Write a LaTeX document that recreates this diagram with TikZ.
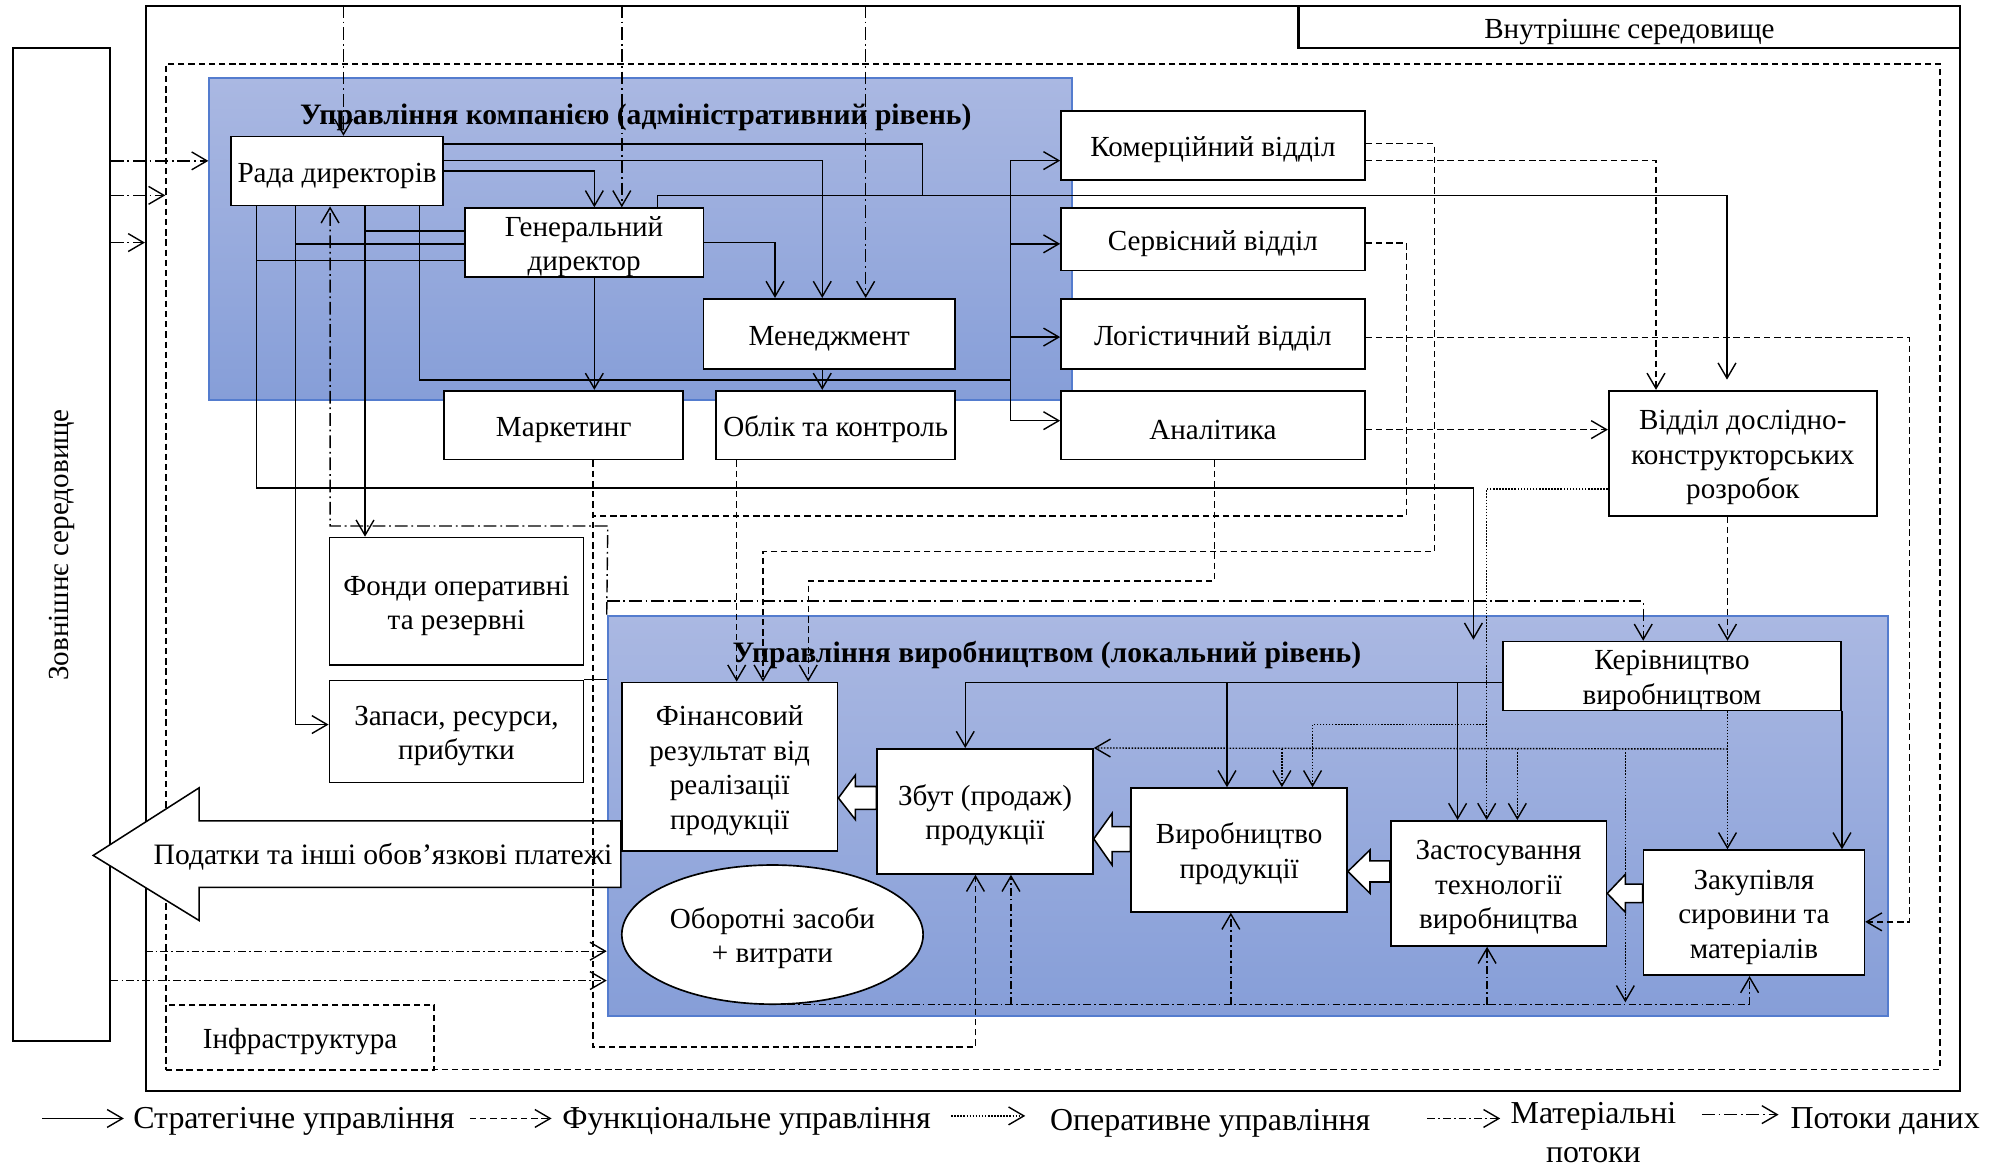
\documentclass[tikz,border=0pt]{standalone}
\usepackage{fontspec}
\setmainfont{Liberation Serif}
\usetikzlibrary{arrows.meta,shapes.geometric,calc}
\pgfdeclarelayer{back}
\pgfdeclarelayer{mid}
\pgfsetlayers{back,mid,main}
\definecolor{pTop}{RGB}{170,184,226}
\definecolor{pBot}{RGB}{134,158,216}
\definecolor{pBorder}{RGB}{84,124,206}
\newcommand\dfont{\fontsize{11.4}{13.5}\selectfont}
\newcommand\lfont{\fontsize{12.5}{15}\selectfont}
\newcommand\tstrut{\rule{0pt}{11pt}}
\newcommand\myblk[8]{\draw[blk] (#2.east |- 0,#3) -- (#8,#6) -- (#8,#4) -- (#1.west |- 0,#4) -- (#1.west |- 0,#5) -- (#8,#5) -- (#8,#7) -- cycle;}
\tikzset{
 ln/.style={line width=0.55pt},
 arw/.style={-{Straight Barb[length=6pt,width=7pt]}},
 strat/.style={ln},
 func/.style={ln,dash pattern=on 2.5pt off 1.5pt},
 oper/.style={ln,dash pattern=on 0.6pt off 0.6pt},
 mat/.style={ln,dash pattern=on 3pt off 1.2pt on 0.7pt off 1.2pt},
 dat/.style={ln,dash pattern=on 5pt off 1.5pt on 0.7pt off 1.5pt},
 bx/.style={draw, fill=white, line width=0.65pt, inner xsep=1pt, inner ysep=0pt, align=center, font=\dfont},
 sz/.style 2 args={minimum width=#1*0.5pt, minimum height=#2*0.5pt},
 panel/.style={draw=pBorder, line width=0.8pt, top color=pTop, bottom color=pBot, inner sep=0pt},
 blk/.style={draw, fill=white, line width=0.6pt, line join=miter},
}
\begin{document}
\begin{tikzpicture}[x=0.5pt,y=-0.5pt]
\useasboundingbox (0,0) rectangle (1568,913);
% ---------- nodes ----------
\node[bx, sz={166}{54}] (rada) at (264,134) {\tstrut Рада директорів};
\node[bx, sz={187}{54}] (gen) at (457.5,190) {\tstrut Генеральний\\директор};
\node[bx, sz={197}{55}] (men) at (649.5,261.5) {\tstrut Менеджмент};
\node[bx, sz={187}{54}] (mark) at (441.5,333) {\tstrut Маркетинг};
\node[bx, sz={187}{54}] (obl) at (654.5,333) {\tstrut Облік та контроль};
\node[bx, sz={238}{54}] (kom) at (950,114) {\tstrut Комерційний відділ};
\node[bx, sz={238}{49}] (serv) at (950,187.5) {\tstrut Сервісний відділ};
\node[bx, sz={238}{55}] (log) at (950,261.5) {\tstrut Логістичний відділ};
\node[bx, sz={238}{54}] (anal) at (950,333) {\tstrut Аналітика};
\node[bx, sz={210}{98}] (dkr) at (1365,355) {\tstrut Відділ дослідно-\\конструкторських\\розробок};
\node[bx, sz={199}{100}] (fond) at (357.5,471) {\tstrut Фонди оперативні\\та резервні};
\node[bx, sz={199}{80}] (zap) at (357.5,573) {\tstrut Запаси, ресурси,\\прибутки};
\node[bx, sz={265}{54}] (ker) at (1309.5,529.5) {\tstrut Керівництво\\виробництвом};
\node[bx, sz={169}{132}] (fin) at (571.5,600.5) {\tstrut Фінансовий\\результат від\\реалізації\\продукції};
\node[bx, sz={169}{98}] (zbut) at (771.5,635.5) {\tstrut Збут (продаж)\\продукції};
\node[bx, sz={169}{97}] (vyr) at (970.5,665.7) {\tstrut Виробництво\\продукції};
\node[bx, sz={169}{98}] (zast) at (1173.7,691.9) {\tstrut Застосування\\технології\\виробництва};
\node[bx, sz={173}{98}] (zak) at (1373.7,714.8) {\tstrut Закупівля\\сировини та\\матеріалів};
\node[bx, ellipse, sz={236}{109}] (ell) at (605,732) {\tstrut Оборотні засоби\\+ витрати};
% ---------- background ----------
\begin{pgfonlayer}{back}
\node[draw, line width=0.8pt, sz={1421.1}{849.8}, inner sep=0pt] (inner) at (824.85,429.6) {};
\node[draw, line width=0.8pt, fill=white, sz={518.4}{33.2}, inner sep=0pt, font=\dfont] (intlab) at (1276.2,21.3) {\tstrut Внутрішнє середовище};
\node[draw, line width=0.8pt, sz={75.6}{777.8}, inner sep=0pt] (ext) at (48.2,426.8) {};
\node[rotate=90, font=\dfont] (extlab) at (ext.center) {Зовнішнє середовище};
\node[draw, func, sz={1389.5}{787.5}, inner sep=0pt] (dashrect) at (824.75,443.75) {};
\node[draw, func, sz={210}{51}, inner sep=0pt, font=\dfont] (infra) at (235,812.5) {\tstrut Інфраструктура};
\node[panel, sz={675.8}{252.5}] (toppanel) at (501.9,187.05) {};
\node[panel, sz={1002.5}{313.3}] (botpanel) at (977.25,638.85) {};
\node[font=\fontsize{11.6}{13.5}\selectfont\bfseries] (toptitle) at (498,92) {Управління компанією (адміністративний рівень)};
\node[font=\fontsize{11.6}{13.5}\selectfont\bfseries] (bottitle) at (820,513) {Управління виробництвом (локальний рівень)};
\draw[blk] (73,670) -- (156,617) -- (156,643) -- (fin.west |- 0,643) -- (fin.west |- 0,695) -- (156,695) -- (156,721) -- cycle;
\node[font=\fontsize{11.6}{13.5}\selectfont] (tax) at (300,671) {Податки та інші обов’язкові платежі};
\end{pgfonlayer}
% ---------- connectors ----------
\begin{pgfonlayer}{mid}
% strategic
\draw[strat,arw,shorten >=4pt] (rada.east |- 0,112.8) -| (722.7,153) -- (1352.6,153) -- (dkr.north -| 1352.6,0);
\draw[strat] (gen.north -| 515,0) -- (515,153) -- (722.7,153);
\draw[strat,arw] (rada.east |- 0,125.8) -| (men.north -| 644,0);
\draw[strat,arw] (rada.east) -| (gen.north -| 465.5,0);
\draw[strat,arw] (gen.east) -| (men.north -| 607,0);
\draw[strat,arw] (gen.south -| 465.5,0) -- (mark.north -| 465.5,0);
\draw[strat,arw] (men.south -| 644,0) -- (obl.north -| 644,0);
\coordinate (busT) at (791.4,125.8);
\coordinate (busB) at (791.4,329.5);
\draw[strat] (rada.south -| 328.7,0) |- (791.4,297.6);
\draw[strat] (busT) -- (busB);
\draw[strat,arw] (busT) -- (kom.west |- busT);
\draw[strat,arw] (791.4,191) -- (serv.west |- 0,191);
\draw[strat,arw] (791.4,264) -- (log.west |- 0,264);
\draw[strat,arw] (busB) -- (anal.west |- busB);
\coordinate (prodin) at (1154,501);
\draw[strat,arw] (rada.south -| 201,0) |- (1154,382.3) -- (prodin);
\draw[strat,arw] (rada.south -| 231.3,0) |- (zap.west |- 0,567.5);
\draw[strat,arw] (rada.south -| 285.9,0) -- (fond.north -| 285.9,0);
\draw[strat] (gen.west |- 0,181) -- (285.9,181);
\draw[strat] (gen.west |- 0,191.2) -- (231.3,191.2);
\draw[strat] (gen.west |- 0,203.9) -- (201,203.9);
\draw[strat] (zap.north east) -- (botpanel.west |- zap.north east);
\draw[strat] (ker.west |- 0,534.4) -- (756,534.4);
\draw[strat,arw] (756,534.4) -- (zbut.north -| 756,0);
\draw[strat,arw] (961,534.4) -- (vyr.north -| 961,0);
\draw[strat,arw] (1141.6,534.4) -- (zast.north -| 1141.6,0);
\draw[strat,arw] (ker.south east) -- (zak.north -| ker.south east);
% functional
\draw[func,arw] (mark.south -| 464.4,0) -- (464.4,820) -| (zbut.south -| 764,0);
\draw[func] (serv.east |- 0,190.4) -| (1101.5,404) -- (464.4,404);
\draw[func,arw] (kom.east |- 0,112.6) -| (1123.5,432) -| (fin.north -| 597.6,0);
\draw[func,arw] (anal.south -| 951,0) |- (633,455) -- (fin.north -| 633,0);
\draw[func,arw] (obl.south -| 577,0) -- (fin.north -| 577,0);
\draw[func,arw] (kom.east |- 0,125.8) -| (dkr.north -| 1297,0);
\draw[func,arw] (anal.east |- 0,336.5) -- (dkr.west |- 0,336.5);
\draw[func,arw] (log.east |- 0,264.5) -| (1495.5,722) -- (zak.east |- 0,722);
\draw[func,arw] (dkr.south -| 1353,0) -- (ker.north -| 1353,0);
% operational
\draw[oper,arw] (dkr.west |- 0,383) -| (zast.north -| 1164.4,0);
\draw[oper,arw] (1164.4,567.3) -| (vyr.north -| 1028,0);
\draw[oper,arw] (ker.south -| 1353,0) -- (zak.north -| 1353,0);
\draw[oper,arw] (1353,586.6) -- (zbut.north east);
\draw[oper,arw] (1004,586.6) -- (vyr.north -| 1004,0);
\draw[oper,arw] (1188.4,586.6) -- (zast.north -| 1188.4,0);
\draw[oper,arw] (1273,586.6) -- (1273,785);
% data and material flows
\draw[dat,arw] (inner.north -| 269,0) -- (rada.north -| 269,0);
\draw[dat,arw] (inner.north -| 487,0) -- (gen.north -| 487,0);
\draw[dat,arw] (inner.north -| 678,0) -- (men.north -| 678,0);
\draw[dat,arw] (ext.east |- 0,126) -- (toppanel.west |- 0,126);
\draw[dat,arw] (ext.east |- 0,153) -- (dashrect.west |- 0,153);
\draw[dat,arw] (ext.east |- 0,190) -- (inner.west |- 0,190);
\draw[mat,arw] (inner.west |- 0,745) -- (botpanel.west |- 0,745);
\draw[mat,arw] (ext.east |- 0,768) -- (botpanel.west |- 0,768);
\draw[dat,arw] (botpanel.north west) -- (476,412) -- (258.5,412) -- (rada.south -| 258.5,0);
\draw[dat,arw] (botpanel.west |- 0,470.7) -- (1287,470.7) -- (ker.north -| 1287,0);
\draw[mat] (ell.-78) -- (ell.-78 -| 1370.3,0);
\draw[mat,arw] (ell.-78 -| 791.8,0) -- (zbut.south -| 791.8,0);
\draw[mat,arw] (ell.-78 -| 964,0) -- (vyr.south -| 964,0);
\draw[mat,arw] (ell.-78 -| 1164.7,0) -- (zast.south -| 1164.7,0);
\draw[mat,arw] (ell.-78 -| 1370.3,0) -- (zak.south -| 1370.3,0);
\end{pgfonlayer}
% ---------- block arrows ----------
\myblk{zak}{zast}{699.7}{692.4}{707}{684.8}{714.5}{1273}
\myblk{zast}{vyr}{682.5}{674.3}{690.8}{665.7}{699.7}{1073}
\myblk{vyr}{zbut}{657}{647.4}{667}{637}{677.5}{871}
\myblk{zbut}{fin}{625}{616}{634}{607}{642}{670}
% ---------- legend ----------
\node[anchor=west, inner sep=0pt, font=\lfont] (lg1) at (104,878) {Стратегічне управління};
\coordinate (lg1s) at (33,876);
\draw[strat,arw] (lg1s) -- ([xshift=-3.5pt]lg1.west |- lg1s);
\node[anchor=west, inner sep=0pt, font=\lfont] (lg2) at (440,878) {Функціональне управління};
\coordinate (lg2s) at (368,876);
\draw[func,arw] (lg2s) -- ([xshift=-4pt]lg2.west |- lg2s);
\node[anchor=west, inner sep=0pt, font=\lfont] (lg3) at (822,880) {Оперативне управління};
\coordinate (lg3s) at (745,874);
\coordinate (lg3e) at (803,874);
\draw[oper,arw] (lg3s) -- (lg3e);
\node[align=center, inner sep=0pt, font=\fontsize{12.5}{15}\selectfont] (lg4) at (1248,887) {Матеріальні\\потоки};
\coordinate (lg4s) at (1118,876);
\coordinate (lg4e) at (1175,876);
\draw[mat,arw] (lg4s) -- (lg4e);
\node[anchor=west, inner sep=0pt, font=\lfont] (lg5) at (1402,878) {Потоки даних};
\coordinate (lg5s) at (1333,873);
\coordinate (lg5e) at (1393,873);
\draw[dat,arw] (lg5s) -- (lg5e);
\end{tikzpicture}
\end{document}
